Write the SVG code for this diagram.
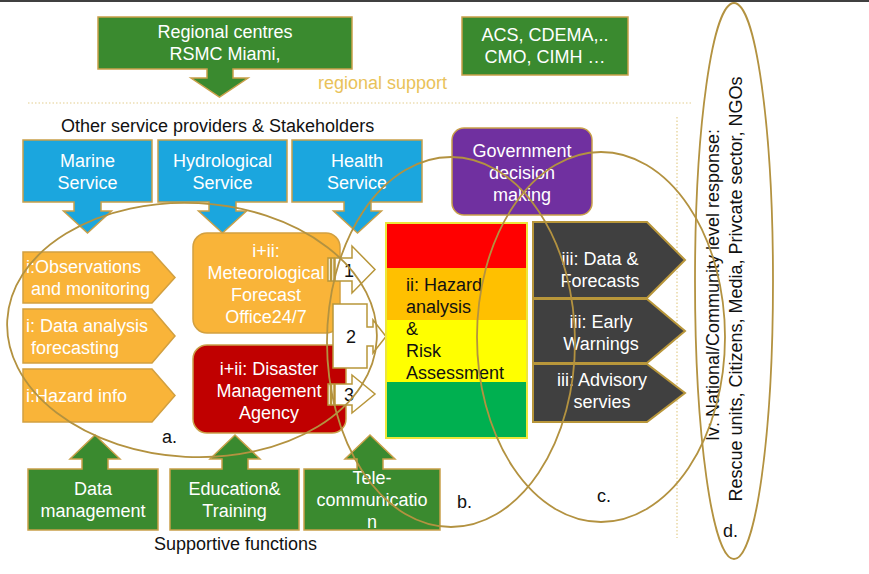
<svg xmlns="http://www.w3.org/2000/svg" width="869" height="574" viewBox="0 0 869 574">
  <defs>
    <style>
      text { font-family: "Liberation Sans", Arial, sans-serif; font-size: 18px; }
      .w { fill: #ffffff; }
      .k { fill: #111111; }
      .c { text-anchor: middle; }
      .green { fill: #3A8A2F; stroke: #C9A04A; stroke-width: 1.5; }
      .blue { fill: #1BA6DE; stroke: #C9A04A; stroke-width: 1.5; }
      .orange { fill: #F9B439; stroke: #D2A040; stroke-width: 1.5; }
      .dred { fill: #C00000; stroke: #C9A04A; stroke-width: 1.5; }
      .purple { fill: #7030A0; stroke: #C9A04A; stroke-width: 1.5; }
      .dark { fill: #404040; stroke: #B8963A; stroke-width: 2; }
      .flow { fill: #ffffff; stroke: #B8963A; stroke-width: 1.5; }
      .ring { fill: none; stroke: #B39240; stroke-width: 1.8; }
      .dots { fill: none; stroke: #E3CD8E; stroke-width: 1.2; stroke-dasharray: 1.5 2; }
    </style>
  </defs>

  <rect x="0" y="0" width="869" height="574" fill="#ffffff"/>
  <line x1="0" y1="1" x2="869" y2="1" stroke="#000000" stroke-width="1.5"/>

  <!-- separators -->
  <line class="dots" x1="28" y1="103" x2="692" y2="103"/>
  <line class="dots" x1="677" y1="117" x2="677" y2="538"/>

  <!-- regional level -->
  <g id="regional-centres">
    <path class="green" d="M98,17 H352 V69 H233 V78 H248 L219.5,97 L191,78 H207 V69 H98 Z"/>
    <text class="w c" x="225" y="38">Regional centres</text>
    <text class="w c" x="225" y="60">RSMC Miami,</text>
  </g>
  <g id="regional-orgs">
    <rect class="green" x="462" y="17" width="166" height="58"/>
    <text class="w c" x="545" y="41">ACS, CDEMA,..</text>
    <text class="w c" x="545" y="63">CMO, CIMH …</text>
  </g>
  <text x="318" y="89" fill="#E9C25A">regional support</text>

  <text class="k" x="61" y="132">Other service providers &amp; Stakeholders</text>

  <!-- other service providers -->
  <g id="marine">
    <path class="blue" d="M23,140 H152 V202 H101 V211 H111.5 L87.5,233 L63.5,211 H74 V202 H23 Z"/>
    <text class="w c" x="87.5" y="167">Marine</text>
    <text class="w c" x="87.5" y="189">Service</text>
  </g>
  <g id="hydrological">
    <path class="blue" d="M158,140 H287 V202 H236 V211 H246.5 L222.5,233 L198.5,211 H209 V202 H158 Z"/>
    <text class="w c" x="222.5" y="167">Hydrological</text>
    <text class="w c" x="222.5" y="189">Service</text>
  </g>
  <g id="health">
    <path class="blue" d="M292,140 H422 V202 H371 V211 H381.5 L357.5,233 L333.5,211 H344 V202 H292 Z"/>
    <text class="w c" x="357" y="167">Health</text>
    <text class="w c" x="357" y="189">Service</text>
  </g>

  <!-- basic services -->
  <g id="observations">
    <path class="orange" d="M23,252 H152 L175,277.5 L152,303 H23 Z"/>
    <text class="w" x="26" y="273">i:Observations</text>
    <text class="w" x="31" y="295">and monitoring</text>
  </g>
  <g id="data-analysis">
    <path class="orange" d="M23,309 H152 L175,336 L152,363 H23 Z"/>
    <text class="w" x="26" y="332">i: Data analysis</text>
    <text class="w" x="31" y="354">forecasting</text>
  </g>
  <g id="hazard-info">
    <path class="orange" d="M23,369 H152 L175,395.5 L152,422 H23 Z"/>
    <text class="w" x="26" y="402">i:Hazard info</text>
  </g>

  <g id="met-office">
    <rect class="orange" x="193" y="233" width="147" height="100" rx="14"/>
    <text class="w c" x="266" y="257">i+ii:</text>
    <text class="w c" x="266" y="279">Meteorological</text>
    <text class="w c" x="266" y="301">Forecast</text>
    <text class="w c" x="266" y="323">Office24/7</text>
  </g>
  <g id="disaster-agency">
    <rect class="dred" x="193" y="345" width="153" height="88" rx="14"/>
    <text class="w c" x="269" y="375">i+ii: Disaster</text>
    <text class="w c" x="269" y="397">Management</text>
    <text class="w c" x="269" y="419">Agency</text>
  </g>

  <!-- hand-over arrows -->
  <g id="connectors">
    <g id="flow-1">
      <rect class="flow" x="328" y="258" width="2.5" height="23"/>
      <rect class="flow" x="331.5" y="258" width="2.5" height="23"/>
      <path class="flow" d="M335,258 H352 V246 L375,269.5 L352,293 V281 H335 Z"/>
      <text class="k c" x="349" y="277">1</text>
    </g>
    <g id="flow-2">
      <path class="flow" d="M333,304 H367 V327 H373 V320 L386,336.5 L373,353 V346 H367 V368 H333 Z"/>
      <text class="k c" x="351" y="343">2</text>
    </g>
    <g id="flow-3">
      <rect class="flow" x="328" y="384" width="2.5" height="21"/>
      <rect class="flow" x="331.5" y="384" width="2.5" height="21"/>
      <path class="flow" d="M335,384 H352 V375 L375,394 L352,413 V405 H335 Z"/>
      <text class="k c" x="349" y="401">3</text>
    </g>
  </g>

  <!-- hazard analysis and risk assessment -->
  <g id="risk-assessment">
    <rect x="386" y="223" width="141" height="45" fill="#FF0000"/>
    <rect x="386" y="268" width="141" height="52" fill="#FFC000"/>
    <rect x="386" y="320" width="141" height="62" fill="#FFFF00"/>
    <rect x="386" y="382" width="141" height="56" fill="#00B050"/>
    <rect x="386" y="223" width="141" height="215" fill="none" stroke="#EDE63A" stroke-width="2"/>
    <text class="k" x="406" y="291">ii: Hazard</text>
    <text class="k" x="406" y="313">analysis</text>
    <text class="k" x="406" y="335">&amp;</text>
    <text class="k" x="406" y="357">Risk</text>
    <text class="k" x="406" y="379">Assessment</text>
  </g>

  <g id="government">
    <rect class="purple" x="452" y="128" width="140" height="87" rx="12"/>
    <text class="w c" x="522" y="157">Government</text>
    <text class="w c" x="522" y="179">decision</text>
    <text class="w c" x="522" y="201">making</text>
  </g>

  <!-- products -->
  <g id="data-forecasts">
    <path class="dark" d="M533,222 H647 L685,260 L647,298 H533 Z"/>
    <text class="w c" x="600" y="265">iii: Data &amp;</text>
    <text class="w c" x="600" y="287">Forecasts</text>
  </g>
  <g id="early-warnings">
    <path class="dark" d="M533,299 H647 L685,331 L647,363 H533 Z"/>
    <text class="w c" x="601" y="328">iii: Early</text>
    <text class="w c" x="601" y="350">Warnings</text>
  </g>
  <g id="advisory">
    <path class="dark" d="M533,364 H647 L685,393 L647,422 H533 Z"/>
    <text class="w c" x="602" y="386">iii: Advisory</text>
    <text class="w c" x="602" y="408">servies</text>
  </g>

  <!-- supportive functions -->
  <g id="data-management">
    <path class="green" d="M28,469 H82 V459 H70 L95,435 L120,459 H108 V469 H158 V530 H28 Z"/>
    <text class="w c" x="93" y="495">Data</text>
    <text class="w c" x="93" y="517">management</text>
  </g>
  <g id="education">
    <path class="green" d="M170,469 H222 V459 H210 L235,435 L260,459 H248 V469 H299 V530 H170 Z"/>
    <text class="w c" x="234.5" y="495">Education&amp;</text>
    <text class="w c" x="234.5" y="517">Training</text>
  </g>
  <g id="telecommunication">
    <path class="green" d="M304,469 H357 V459 H345 L370,435 L395,459 H383 V469 H440 V530 H304 Z"/>
    <text class="w c" x="372" y="484">Tele-</text>
    <text class="w c" x="372" y="506">communicatio</text>
    <text class="w c" x="372" y="528">n</text>
  </g>
  <text class="k" x="154" y="550">Supportive functions</text>

  <!-- national / community response -->
  <g id="response">
    <text class="k c" transform="translate(719,285) rotate(-90)">Iv: National/Community level response:</text>
    <text class="k c" transform="translate(742,289) rotate(-90)">Rescue units, Citizens, Media, Privcate sector, NGOs</text>
  </g>

  <!-- groupings -->
  <g id="groupings">
    <ellipse class="ring" cx="192" cy="330" rx="185" ry="127" transform="rotate(3 192 330)"/>
    <ellipse class="ring" cx="451" cy="342" rx="124" ry="185"/>
    <ellipse class="ring" cx="601" cy="337" rx="124" ry="185"/>
    <ellipse class="ring" cx="734" cy="281" rx="39" ry="278"/>
    <text class="k" x="162" y="443">a.</text>
    <text class="k" x="457" y="508">b.</text>
    <text class="k" x="597" y="502">c.</text>
    <text class="k" x="723" y="537">d.</text>
  </g>
</svg>
